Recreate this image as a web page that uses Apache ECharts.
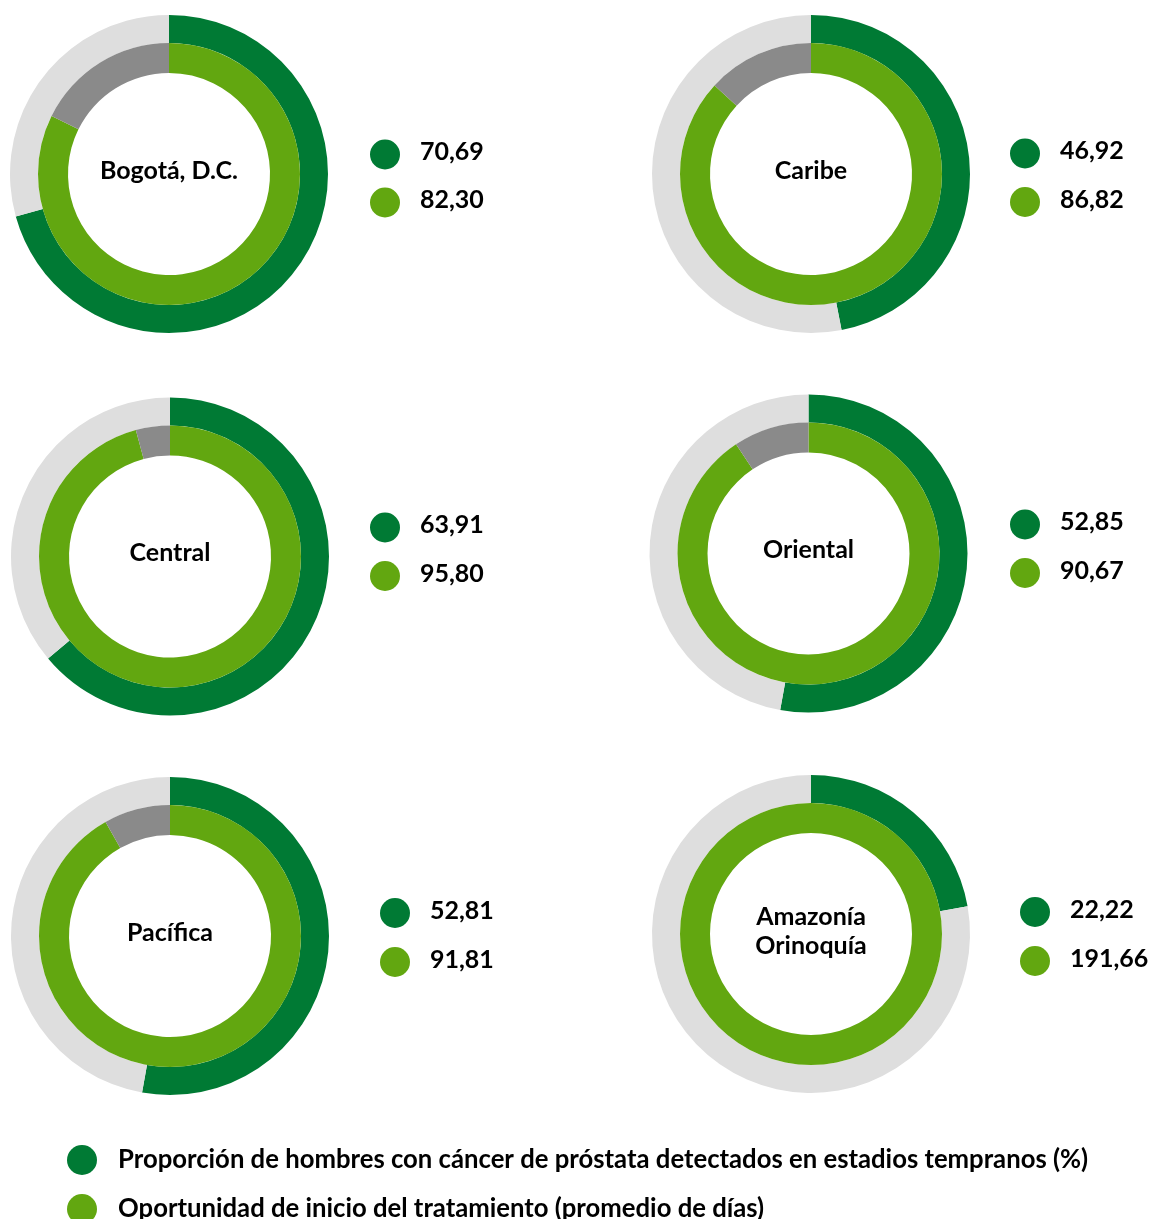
<!DOCTYPE html>
<html>
<head>
<meta charset="utf-8">
<script src="https://cdn.jsdelivr.net/npm/echarts@6/dist/echarts.min.js"></script>
<style>
  html, body { margin: 0; padding: 0; background: #ffffff; }
  #chart { width: 1154px; height: 1219px; }
</style>
</head>
<body>
<div id="chart"></div>
<script>
// ---- Data ----
const regions = ['Bogotá, D.C.', 'Caribe', 'Central', 'Oriental', 'Pacífica', 'Amazonía\nOrinoquía'];
const proportionEarly = [70.69, 46.92, 63.91, 52.85, 52.81, 22.22];   // % detected in early stages
const treatmentDays = [82.30, 86.82, 95.80, 90.67, 91.81, 191.66];    // average days to treatment start
const seriesLabels = [
  'Proporción de hombres con cáncer de próstata detectados en estadios tempranos (%)',
  'Oportunidad de inicio del tratamiento (promedio de días)'
];
const ringMax = 100;

// ---- Layout / style ----
const layout = [
  { c: [169, 174], dot: [385, 154.5, 202.5] },
  { c: [811, 174], dot: [1025, 153.5, 202] },
  { c: [170, 556.5], dot: [385, 527.5, 576] },
  { c: [808.5, 553.5], dot: [1025, 524.5, 573] },
  { c: [170, 936], dot: [395, 913, 962] },
  { c: [811, 934], dot: [1035, 912, 961] }
];
const C_DARK = '#007A34';
const C_LIGHT = '#62A710';
const C_GREY_L = '#DEDEDE';
const C_GREY_D = '#8A8A8A';
const FONT = 'Lato';
const FS = 25;
const FS_LEGEND = 25.7;

const fmt = v => v.toFixed(2).replace('.', ',');

const series = [];
const graphics = [];
regions.forEach((name, i) => {
  const L = layout[i];
  const p = proportionEarly[i];
  const d = treatmentDays[i];
  const common = {
    type: 'pie',
    center: L.c,
    startAngle: 90,
    clockwise: true,
    silent: true,
    label: { show: false },
    labelLine: { show: false },
    emphasis: { disabled: true },
    itemStyle: { borderWidth: 0 },
    stillShowZeroSum: false,
    minAngle: 0
  };
  series.push(Object.assign({}, common, {
    name: name + ' – outer',
    radius: [131, 159],
    data: [
      { name: seriesLabels[0], value: p, itemStyle: { color: C_DARK } },
      { name: 'resto1', value: ringMax - p, itemStyle: { color: C_GREY_L } }
    ]
  }));
  series.push(Object.assign({}, common, {
    name: name + ' – inner',
    radius: [101, 131],
    data: [
      { name: seriesLabels[1], value: Math.min(d, ringMax), itemStyle: { color: C_LIGHT } },
      { name: 'resto2', value: Math.max(ringMax - d, 0), itemStyle: { color: C_GREY_D } }
    ]
  }));
  const lines = name.split('\n').length;
  graphics.push({
    type: 'text',
    x: L.c[0], y: L.c[1] - (lines > 1 ? 3 : 3.5),
    style: {
      text: name, fill: '#000', font: 'bold ' + FS + 'px ' + FONT,
      textAlign: 'center', textVerticalAlign: 'middle', lineHeight: 29
    }
  });
  [[p, C_DARK, L.dot[1]], [d, C_LIGHT, L.dot[2]]].forEach(([v, col, y]) => {
    graphics.push({ type: 'circle', shape: { cx: L.dot[0], cy: y, r: 15 }, style: { fill: col } });
    graphics.push({
      type: 'text', x: L.dot[0] + 35, y: y - 2.5,
      style: { text: fmt(v), fill: '#000', font: 'bold ' + FS + 'px ' + FONT, textAlign: 'left', textVerticalAlign: 'middle' }
    });
  });
});

const legendBase = {
  orient: 'vertical',
  left: 67,
  padding: 0,
  icon: 'circle',
  itemWidth: 30,
  itemHeight: 30,
  selectedMode: false,
  textStyle: { fontFamily: FONT, fontWeight: 'bold', fontSize: FS_LEGEND, color: '#000', padding: [0, 0, 0, 16] }
};

const chart = echarts.init(document.getElementById('chart'), null, { renderer: 'canvas' });
chart.setOption({
  animation: false,
  backgroundColor: '#ffffff',
  legend: [
    Object.assign({}, legendBase, { data: [seriesLabels[0]], top: 1145 }),
    Object.assign({}, legendBase, { data: [seriesLabels[1]], top: 1194 })
  ],
  series: series,
  graphic: graphics
});
</script>
</body>
</html>
